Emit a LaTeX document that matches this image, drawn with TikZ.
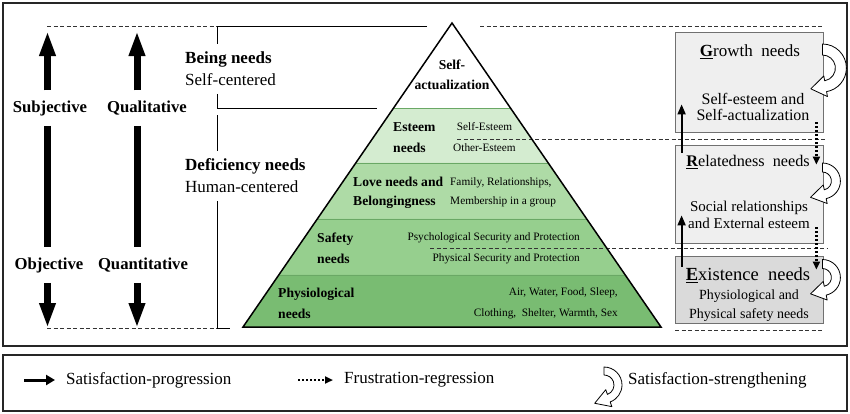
\documentclass[tikz,border=0pt]{standalone}
\usepackage{fontspec}
\setmainfont{Liberation Serif}
\usetikzlibrary{arrows.meta,calc}
\definecolor{esteemgreen}{HTML}{D4ECD0}
\definecolor{lovegreen}{HTML}{AEDBA6}
\definecolor{safetygreen}{HTML}{96CF8E}
\definecolor{physgreen}{HTML}{79BC72}
\definecolor{layerline}{HTML}{6AA865}
\definecolor{boxlight}{HTML}{EFEFEF}
\definecolor{boxdark}{HTML}{DADADA}
\definecolor{boxedge}{HTML}{707070}
\tikzset{
  axislabel/.style={font=\fontsize{16.7}{20}\selectfont\bfseries, inner sep=0pt,
    text height=12pt, text depth=3.5pt, outer ysep=10pt},
  bigarrow/.style={line width=7pt, -{Triangle[width=15pt,length=25pt]}},
  bigbar/.style={line width=7pt},
  grouplabel/.style={font=\fontsize{17}{22}\selectfont, inner sep=0pt, outer ysep=8pt,
    align=left, anchor=west},
  layerlabel/.style={font=\fontsize{13.6}{21}\selectfont\bfseries, inner sep=0pt,
    align=left, anchor=west},
  layeritem/.style={font=\fontsize{11.3}{21}\selectfont, inner sep=0pt},
  needbox/.style={draw=boxedge, line width=0.8pt, inner sep=0pt, minimum width=148pt},
  boxtitle/.style={font=\fontsize{17}{20}\selectfont, inner sep=0pt},
  boxtext/.style={inner sep=0pt, align=center},
  guide/.style={dash pattern=on 4pt off 2.5pt, line width=0.7pt, black!80},
  bracket/.style={line width=1pt},
  progress/.style={line width=1.8pt, -{Triangle[width=8pt,length=10pt]}},
  regress/.style={line width=2.2pt, dash pattern=on 2pt off 2pt,
    -{Triangle[width=7pt,length=8pt]}},
  strengthen/.style={draw, fill=white, line width=0.8pt, line join=round},
  legendtext/.style={font=\fontsize{17}{20}\selectfont, inner sep=0pt, anchor=west},
  frame/.style={line width=1.6pt, black!85}
}
% hollow curved arrow: centre, outer radius, inner radius, end angle
\newcommand{\strengtharrow}[4]{%
  \draw[strengthen] ($(#1)+(-90:#2)$) arc[start angle=-90,end angle=#4,radius=#2]
    -- ($(#1)+(#4:#2+5)$) -- ($(#1)+(#4:{(#2+#3)/2})+(#4+90:15)$)
    -- ($(#1)+(#4:#3-5)$) -- ($(#1)+(#4:#3)$)
    arc[start angle=#4,end angle=-90,radius=#3] -- cycle;}

\begin{document}
\begin{tikzpicture}[x=1pt, y=-1pt]
\useasboundingbox (0,0) rectangle (850,413);
\draw[frame] (3,3) rectangle (847,346);
\draw[frame] (3,355) rectangle (847,411);

% guide lines
\draw[guide] (47,26) -- (217,26);
\draw[guide] (47,328) -- (217,328);
\draw[guide] (480,26) -- (823,26);
\draw[guide] (675,330) -- (823,330);

% pyramid
\coordinate (apex) at (452,23);
\coordinate (bl) at (243,327);
\coordinate (br) at (661,327);
\foreach \t/\n in {0.2796/a,0.4605/b,0.6447/c,0.8289/d}{
  \coordinate (l\n) at ($(apex)!\t!(bl)$);
  \coordinate (r\n) at ($(apex)!\t!(br)$);
}
\fill[esteemgreen] (la) -- (ra) -- (rb) -- (lb) -- cycle;
\fill[lovegreen] (lb) -- (rb) -- (rc) -- (lc) -- cycle;
\fill[safetygreen] (lc) -- (rc) -- (rd) -- (ld) -- cycle;
\fill[physgreen] (ld) -- (rd) -- (br) -- (bl) -- cycle;
\foreach \n in {a,b,c,d}
  \draw[layerline, line width=0.9pt] (l\n) -- (r\n);
\draw[guide] (457,139) -- (827,139);
\draw[guide] (430,248) -- (827,248);
\draw[line width=1.5pt] (apex) -- (bl) -- (br) -- cycle;

\node[layerlabel, font=\fontsize{13.6}{20}\selectfont\bfseries, anchor=center, align=center]
  (selfact) at (452,75) {Self-\\actualization};
\node[layerlabel] (esteem) at (393,137.5) {Esteem\\needs};
\node[layeritem, align=center] (esteemitems) at (484.5,137.5) {Self-Esteem\\Other-Esteem};
\node[layerlabel, font=\fontsize{13.6}{19}\selectfont\bfseries] (love) at (353,192.5)
  {Love needs and\\Belongingness};
\node[layeritem, font=\fontsize{11.3}{19}\selectfont, align=left, anchor=west]
  (loveitems) at (450,192.5) {Family, Relationships,\\Membership in a group};
\node[layerlabel] (safety) at (317,248.5) {Safety\\needs};
\node[layeritem, align=right, anchor=east] (safetyitems) at (580,248.5)
  {Psychological Security and Protection\\Physical Security and Protection};
\node[layerlabel] (physio) at (278,303.5) {Physiological\\needs};
\node[layeritem, align=right, anchor=east] (physioitems) at (618,303.5)
  {Air, Water, Food, Sleep,\\Clothing,\ \ Shelter, Warmth, Sex};

% left axes
\coordinate (top) at (0,31);
\coordinate (bottom) at (0,328);
\coordinate (sx) at (47.5,0);
\coordinate (qx) at (137,0);
\node[axislabel] (subj) at (50,108) {Subjective};
\node[axislabel] (obj) at (49,265) {Objective};
\node[axislabel] (qual) at (147,108) {Qualitative};
\node[axislabel] (quant) at (143,265) {Quantitative};
\draw[bigarrow] (subj.north -| sx) -- (sx |- top);
\draw[bigbar] (subj.south -| sx) -- (obj.north -| sx);
\draw[bigarrow] (obj.south -| sx) -- (sx |- bottom);
\draw[bigarrow] (qual.north -| qx) -- (qx |- top);
\draw[bigbar] (qual.south -| qx) -- (quant.north -| qx);
\draw[bigarrow] (quant.south -| qx) -- (qx |- bottom);

% brackets
\node[grouplabel] (being) at (185,69) {\textbf{Being needs}\\Self-centered};
\node[grouplabel] (deficiency) at (185,176) {\textbf{Deficiency needs}\\Human-centered};
\coordinate (bx) at (217,26);
\draw[bracket] (427,26) -- (bx) -- (bx |- being.north);
\draw[bracket] (bx |- being.south) -- (217,108) -- (377,108);
\draw[bracket] (217,115) -- (bx |- deficiency.north);
\draw[bracket] (bx |- deficiency.south) -- (217,328) -- (230,328);

% ERG boxes
\node[needbox, fill=boxlight, minimum height=100pt] (growth) at (749,82) {};
\node[needbox, fill=boxlight, minimum height=98pt] (related) at (749,194) {};
\node[needbox, fill=boxdark, minimum height=67pt] (exist) at (749,289.5) {};
\node[boxtitle] (growthname) at (750,52) {\underline{\textbf{G}}rowth\ \ needs};
\node[boxtext, font=\fontsize{16}{16}\selectfont] (growthtext) at (753,106.5)
  {Self-esteem and\\Self-actualization};
\node[boxtitle, font=\fontsize{16.2}{20}\selectfont] (relatedname) at (748,162)
  {\underline{\textbf{R}}elatedness\ \ needs};
\node[boxtext, font=\fontsize{15}{17}\selectfont] (relatedtext) at (749,214.5)
  {Social relationships\\and External esteem};
\node[boxtitle, font=\fontsize{18.5}{20}\selectfont] (existname) at (748,275)
  {\underline{\textbf{E}}xistence\ \ needs};
\node[boxtext, font=\fontsize{14}{19}\selectfont] (existtext) at (749,305.5)
  {Physiological and\\Physical safety needs};

\draw[progress] ([xshift=7pt,yshift=-8pt]related.north west) -- ([xshift=7pt,yshift=28pt]growth.south west);
\draw[progress] ([xshift=7pt,yshift=-11pt]exist.north west) -- ([xshift=7pt,yshift=28pt]related.south west);
\draw[regress] ([xshift=-7pt,yshift=10pt]growth.south east) -- ([xshift=-7pt,yshift=-20pt]related.north east);
\draw[regress] ([xshift=-7pt,yshift=16pt]related.south east) -- ([xshift=-7pt,yshift=-14pt]exist.north east);

\coordinate (growthloop) at ([xshift=-1pt,yshift=14pt]growth.east);
\coordinate (relatedloop) at ([xshift=-1pt,yshift=13pt]related.east);
\coordinate (existloop) at ([xshift=-1pt,yshift=12pt]exist.east);
\strengtharrow{growthloop}{24}{13}{80}
\strengtharrow{relatedloop}{18}{9}{78}
\strengtharrow{existloop}{18}{9}{78}

% legend
\node[legendtext] (progtext) at (66,380) {Satisfaction-progression};
\draw[line width=3pt, -{Triangle[width=10pt,length=9pt]}]
  ([xshift=-42pt]progtext.west) -- ([xshift=-11pt]progtext.west);
\node[legendtext] (regtext) at (344,380) {Frustration-regression};
\draw[regress, line width=2.5pt] ([xshift=-46pt]regtext.west) -- ([xshift=-11pt]regtext.west);
\node[legendtext] (strtext) at (628,380) {Satisfaction-strengthening};
\coordinate (legendloop) at ([xshift=-24pt,yshift=-5pt]strtext.west);
\strengtharrow{legendloop}{18}{10}{70}
\end{tikzpicture}
\end{document}
